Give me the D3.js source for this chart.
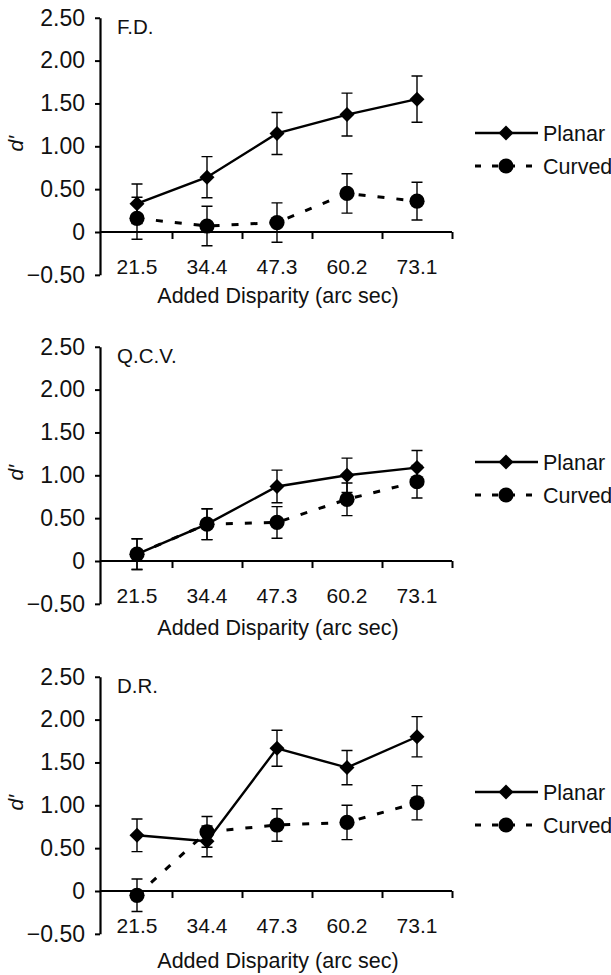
<!DOCTYPE html>
<html>
<head>
<meta charset="utf-8">
<script src="https://cdn.jsdelivr.net/npm/d3@7"></script>
<style>
  html, body { margin: 0; padding: 0; background: #fff; }
  svg { display: block; font-family: "Liberation Sans", Arial, Helvetica, sans-serif; }
</style>
</head>
<body>
<svg id="chart" width="611" height="975"></svg>
<script>
// Added disparity conditions (arc sec)
const disparities = ["21.5", "34.4", "47.3", "60.2", "73.1"];

// d' axis ticks
const yTicks = [-0.5, 0, 0.5, 1, 1.5, 2, 2.5];
const yTickLabels = ["\u22120.50", "0", "0.50", "1.00", "1.50", "2.00", "2.50"];

// Observers, one panel each
const observers = ["F.D.", "Q.C.V.", "D.R."];

// Series names
const seriesNames = ["Planar", "Curved"];

// F.D.
const planarFD = [0.33, 0.64, 1.15, 1.37, 1.55];
const planarErrFD = [0.23, 0.24, 0.245, 0.25, 0.27];
const curvedFD = [0.16, 0.07, 0.11, 0.45, 0.36];
const curvedErrFD = [0.245, 0.23, 0.23, 0.23, 0.22];

// Q.C.V.
const planarQCV = [0.08, 0.43, 0.87, 1.00, 1.09];
const planarErrQCV = [0.18, 0.18, 0.19, 0.20, 0.20];
const curvedQCV = [0.08, 0.43, 0.45, 0.72, 0.925];
const curvedErrQCV = [0.18, 0.18, 0.185, 0.19, 0.19];

// D.R.
const planarDR = [0.65, 0.58, 1.665, 1.44, 1.80];
const planarErrDR = [0.19, 0.18, 0.21, 0.20, 0.235];
const curvedDR = [-0.05, 0.69, 0.77, 0.80, 1.03];
const curvedErrDR = [0.19, 0.18, 0.19, 0.20, 0.20];

const panels = [
  { name: observers[0], planar: planarFD, planarErr: planarErrFD, curved: curvedFD, curvedErr: curvedErrFD },
  { name: observers[1], planar: planarQCV, planarErr: planarErrQCV, curved: curvedQCV, curvedErr: curvedErrQCV },
  { name: observers[2], planar: planarDR, planarErr: planarErrDR, curved: curvedDR, curvedErr: curvedErrDR }
];

// Layout
const zeroY = [232, 561, 891];
const titleY = [295, 627, 960];
const pxPerUnit = 85.7;
const axisX = 100;
const plotLeft = 102, plotRight = 452;

const svg = d3.select("#chart");

panels.forEach((p, i) => {
  const z = zeroY[i];
  const g = svg.append("g");

  const y = d3.scaleLinear()
    .domain([-0.5, 2.5])
    .range([z + 0.5 * pxPerUnit, z - 2.5 * pxPerUnit]);

  const x = d3.scaleBand()
    .domain(disparities)
    .range([plotLeft, plotRight]);

  const xEdge = d3.scaleLinear().domain([0, disparities.length]).range([plotLeft, plotRight]);

  // Y axis
  const yAxis = g.append("g")
    .attr("transform", `translate(${axisX},0)`)
    .call(d3.axisLeft(y)
      .tickValues(yTicks)
      .tickFormat((d, k) => yTickLabels[k])
      .tickSize(5)
      .tickSizeOuter(0)
      .tickPadding(10));
  yAxis.select(".domain").attr("stroke-width", 2.2).attr("stroke", "#000");
  yAxis.selectAll(".tick line").attr("stroke-width", 2).attr("stroke", "#000");
  yAxis.selectAll(".tick text")
    .attr("font-size", 23)
    .attr("fill", "#111")
    .attr("font-family", "Liberation Sans, Arial, sans-serif");

  // X axis line at d' = 0 with ticks at category boundaries
  const xAxis = g.append("g")
    .attr("transform", `translate(0,${y(0)})`)
    .call(d3.axisBottom(xEdge)
      .tickValues(d3.range(1, disparities.length + 1))
      .tickFormat("")
      .tickSize(7)
      .tickSizeOuter(0));
  xAxis.select(".domain").attr("d", `M${axisX},0H${plotRight}`).attr("stroke-width", 2.2).attr("stroke", "#000");
  xAxis.selectAll(".tick line").attr("stroke-width", 2).attr("stroke", "#000");

  // Category labels below the axis
  const xLabels = g.append("g")
    .attr("transform", `translate(0,${y(0) + 27})`)
    .call(d3.axisBottom(x).tickSize(0).tickPadding(0));
  xLabels.select(".domain").remove();
  xLabels.selectAll(".tick text")
    .attr("font-size", 21)
    .attr("fill", "#111")
    .attr("font-family", "Liberation Sans, Arial, sans-serif");

  // Axis titles
  g.append("text")
    .attr("x", (plotLeft + plotRight) / 2 + 1)
    .attr("y", titleY[i])
    .attr("dy", "0.36em")
    .attr("text-anchor", "middle")
    .attr("font-size", 21.5)
    .attr("fill", "#111")
    .text("Added Disparity (arc sec)");

  g.append("text")
    .attr("transform", `translate(23,${y(1.03)}) rotate(-90)`)
    .attr("text-anchor", "middle")
    .attr("font-size", 21)
    .attr("font-style", "italic")
    .attr("fill", "#111")
    .text("d\u2032");

  // Observer label
  g.append("text")
    .attr("x", 117)
    .attr("y", y(2.5) + 16.5)
    .attr("font-size", 20.5)
    .attr("fill", "#111")
    .text(p.name);

  const cx = d => x(d) + x.bandwidth() / 2;
  const capHalf = 5.5;

  function drawSeries(vals, errs, dashed, marker) {
    const pts = disparities.map((d, k) => ({ d, v: vals[k], e: errs[k] }));
    const eg = g.append("g").attr("stroke", "#000").attr("stroke-width", 1.4).attr("fill", "none");
    pts.forEach(pt => {
      const xc = cx(pt.d);
      const top = y(pt.v + pt.e), bot = y(pt.v - pt.e);
      eg.append("path").attr("d",
        `M${xc},${top}V${bot}M${xc - capHalf},${top}H${xc + capHalf}M${xc - capHalf},${bot}H${xc + capHalf}`);
    });

    const line = d3.line().x(pt => cx(pt.d)).y(pt => y(pt.v));
    g.append("path")
      .datum(pts)
      .attr("d", line)
      .attr("fill", "none")
      .attr("stroke", "#000")
      .attr("stroke-width", dashed ? 3 : 2.4)
      .attr("stroke-dasharray", dashed ? "7,12" : null);

    g.append("g").selectAll("path")
      .data(pts)
      .join("path")
      .attr("transform", pt => `translate(${cx(pt.d)},${y(pt.v)})` + (marker === "diamond" ? " rotate(45)" : ""))
      .attr("d", marker === "diamond"
        ? d3.symbol(d3.symbolSquare, 112)()
        : d3.symbol(d3.symbolCircle, Math.PI * 7.6 * 7.6)())
      .attr("fill", "#000");
  }

  drawSeries(p.planar, p.planarErr, false, "diamond");
  drawSeries(p.curved, p.curvedErr, true, "circle");

  // Legend
  const lg = g.append("g");
  const rowP = z - 99, rowC = z - 66;
  lg.append("line")
    .attr("x1", 475).attr("x2", 538).attr("y1", rowP).attr("y2", rowP)
    .attr("stroke", "#000").attr("stroke-width", 2.4);
  lg.append("path")
    .attr("transform", `translate(506,${rowP}) rotate(45)`)
    .attr("d", d3.symbol(d3.symbolSquare, 112)())
    .attr("fill", "#000");
  lg.append("text")
    .attr("x", 543).attr("y", rowP).attr("dy", "0.36em")
    .attr("font-size", 21.5).attr("fill", "#111")
    .text(seriesNames[0]);

  lg.append("line")
    .attr("x1", 475).attr("x2", 532).attr("y1", rowC).attr("y2", rowC)
    .attr("stroke", "#000").attr("stroke-width", 3)
    .attr("stroke-dasharray", "6,11");
  lg.append("circle")
    .attr("cx", 506).attr("cy", rowC).attr("r", 7.6)
    .attr("fill", "#000");
  lg.append("text")
    .attr("x", 543).attr("y", rowC).attr("dy", "0.36em")
    .attr("font-size", 21.5).attr("fill", "#111")
    .text(seriesNames[1]);
});
</script>
</body>
</html>
